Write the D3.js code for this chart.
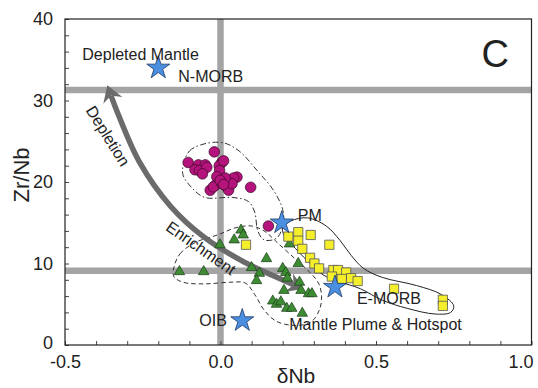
<!DOCTYPE html>
<html>
<head>
<meta charset="utf-8">
<script src="https://cdn.jsdelivr.net/npm/d3@7"></script>
<style>
  body { margin: 0; background: #fff; }
  text { font-family: Arial, "Liberation Sans", sans-serif; fill: #222; }
</style>
</head>
<body>
<div id="chart"></div>
<script>
// data: [dNb, Zr/Nb]
var purpleCircles = [
    [-0.104, 22.4], [-0.071, 22.1], [-0.049, 22.1], [-0.082, 21.5], [-0.068, 21.4],
    [-0.044, 21.8], [-0.058, 21.0], [-0.02, 23.7], [0.004, 22.4], [-0.004, 22.0],
    [0.01, 22.6], [-0.003, 21.4], [-0.012, 20.65], [-0.017, 19.6], [-0.033, 19.0],
    [-0.023, 19.4], [0.004, 19.8], [0.02, 19.4], [0.026, 19.0], [0.031, 20.2],
    [0.053, 20.6], [0.042, 20.5], [0.037, 19.8], [0.015, 20.5], [-0.001, 20.2],
    [0.01, 19.7], [0.097, 19.35], [0.154, 14.6]
];

var greenTriangles = [
    [0.066, 14.1], [0.073, 13.5], [0.044, 12.9], [-0.002, 12.3], [-0.132, 9.0],
    [-0.054, 9.0], [0.148, 10.6], [0.1, 9.5], [0.125, 8.8], [0.116, 7.9],
    [0.2, 9.4], [0.21, 8.9], [0.215, 8.2], [0.222, 12.4], [0.25, 10.0],
    [0.254, 7.7], [0.259, 6.7], [0.283, 6.3], [0.294, 6.3], [0.204, 6.7],
    [0.168, 5.4], [0.18, 5.0], [0.194, 5.3], [0.213, 4.5], [0.229, 4.5],
    [0.263, 3.9]
];

var yellowSquares = [
    [0.082, 12.3], [0.218, 13.3], [0.25, 13.85], [0.29, 13.5], [0.25, 12.8],
    [0.35, 12.3], [0.263, 11.8], [0.288, 10.7], [0.302, 10.0], [0.317, 9.4],
    [0.363, 9.2], [0.378, 9.2], [0.404, 8.9], [0.358, 8.4], [0.39, 8.1],
    [0.42, 8.2], [0.441, 7.85], [0.558, 6.9], [0.715, 5.55], [0.715, 4.8]
];

var stars = [
    {name: "N-MORB", x: -0.2, y: 34.0},
    {name: "PM", x: 0.197, y: 15.0},
    {name: "E-MORB", x: 0.368, y: 7.1},
    {name: "OIB", x: 0.07, y: 3.0}
];

// reference lines
var hLines = [31.3, 9.1];
var vLines = [0.0];

// field outlines
var purpleField = [
    [-0.12, 22.0], [-0.1, 23.8], [-0.05, 24.7], [0.01, 24.8], [0.06, 23.8],
    [0.12, 21.3], [0.17, 19.0], [0.2, 16.6], [0.2, 14.6], [0.18, 13.1],
    [0.14, 12.9], [0.12, 14.0], [0.11, 16.3], [0.09, 17.6], [0.04, 18.1],
    [-0.05, 18.1], [-0.09, 19.2], [-0.12, 20.8]
];
var greenField = [
    [-0.15, 9.5], [-0.13, 11.2], [-0.08, 12.6], [-0.01, 13.5], [0.05, 14.4],
    [0.1, 14.6], [0.14, 14.0], [0.19, 12.3], [0.245, 10.4], [0.285, 9.0],
    [0.315, 7.6], [0.325, 6.0], [0.318, 4.3], [0.29, 2.8], [0.24, 2.4],
    [0.18, 2.9], [0.14, 4.3], [0.11, 6.2], [0.08, 7.6], [0.03, 7.7],
    [-0.05, 7.5], [-0.12, 7.7], [-0.15, 8.4]
];
var yellowField = [
    [0.2, 14.4], [0.225, 15.2], [0.28, 15.6], [0.34, 14.6], [0.385, 12.8],
    [0.42, 11.0], [0.46, 9.4], [0.52, 8.3], [0.63, 7.3], [0.71, 6.2],
    [0.75, 4.8], [0.74, 4.0], [0.69, 3.8], [0.6, 4.5], [0.52, 5.5],
    [0.45, 6.9], [0.38, 7.8], [0.33, 8.6], [0.28, 10.3], [0.23, 12.3],
    [0.205, 13.4]
];

// curved double arrow (shaft)
var arrowPts = [
    [-0.352, 30.6], [-0.33, 28.4], [-0.26, 22.4], [-0.16, 17.0],
    [-0.055, 13.3], [0.075, 10.2], [0.17, 8.5], [0.235, 7.4]
];

var xTicks = d3.range(-5, 11).map(d => d / 10);
var xLabels = [-0.5, 0.0, 0.5, 1.0];
var yTicks = d3.range(0, 41, 2);
var yLabels = [0, 10, 20, 30, 40];

var svgWidth = 538;
var svgHeight = 388;
var margin = {top: 19, right: 6.5, bottom: 43, left: 65};
var width = svgWidth - margin.left - margin.right;
var height = svgHeight - margin.top - margin.bottom;

var svg = d3.select("#chart")
    .append("svg")
    .attr("width", svgWidth)
    .attr("height", svgHeight);

var defs = svg.append("defs");
defs.append("marker")
    .attr("id", "headEnd")
    .attr("viewBox", "0 0 16 20")
    .attr("refX", 5).attr("refY", 10)
    .attr("markerWidth", 16).attr("markerHeight", 20)
    .attr("markerUnits", "userSpaceOnUse")
    .attr("orient", "auto")
    .append("path")
    .attr("d", "M0,0 L16,10 L0,20 L5,10 Z")
    .attr("fill", "#6b6b6b");
defs.append("marker")
    .attr("id", "headStart")
    .attr("viewBox", "0 0 16 20")
    .attr("refX", 11).attr("refY", 10)
    .attr("markerWidth", 16).attr("markerHeight", 20)
    .attr("markerUnits", "userSpaceOnUse")
    .attr("orient", "auto")
    .append("path")
    .attr("d", "M16,0 L0,10 L16,20 L11,10 Z")
    .attr("fill", "#6b6b6b");

defs.append("clipPath").attr("id", "plotClip")
    .append("rect").attr("width", width).attr("height", height);

var g = svg.append("g")
    .attr("transform", `translate(${margin.left}, ${margin.top})`);

var x = d3.scaleLinear().domain([-0.5, 1.0]).range([0, width]);
var y = d3.scaleLinear().domain([0, 40]).range([height, 0]);

var plot = g.append("g").attr("clip-path", "url(#plotClip)");

// grey reference lines
plot.selectAll(".hline")
    .data(hLines)
    .enter()
    .append("line")
    .attr("x1", 0).attr("x2", width)
    .attr("y1", d => y(d)).attr("y2", d => y(d))
    .attr("stroke", "#a4a4a4")
    .attr("stroke-width", 6.5);

plot.selectAll(".vline")
    .data(vLines)
    .enter()
    .append("line")
    .attr("y1", 0).attr("y2", height)
    .attr("x1", d => x(d)).attr("x2", d => x(d))
    .attr("stroke", "#a4a4a4")
    .attr("stroke-width", 6.5);

// field outlines
var outline = d3.line()
    .x(d => x(d[0]))
    .y(d => y(d[1]))
    .curve(d3.curveCatmullRomClosed.alpha(0.5));

plot.append("path")
    .attr("d", outline(purpleField))
    .attr("fill", "none")
    .attr("stroke", "#333")
    .attr("stroke-width", 1)
    .attr("stroke-dasharray", "6,2.5,1.5,2.5");

plot.append("path")
    .attr("d", outline(greenField))
    .attr("fill", "none")
    .attr("stroke", "#333")
    .attr("stroke-width", 1)
    .attr("stroke-dasharray", "4.5,3");

plot.append("path")
    .attr("d", outline(yellowField))
    .attr("fill", "none")
    .attr("stroke", "#222")
    .attr("stroke-width", 1);

// arrow
var arrowLine = d3.line()
    .x(d => x(d[0]))
    .y(d => y(d[1]))
    .curve(d3.curveCatmullRom.alpha(0.5));

plot.append("path")
    .attr("d", arrowLine(arrowPts))
    .attr("fill", "none")
    .attr("stroke", "#6b6b6b")
    .attr("stroke-width", 5.5)
    .attr("marker-start", "url(#headStart)")
    .attr("marker-end", "url(#headEnd)");

// triangles
plot.selectAll(".tri")
    .data(greenTriangles)
    .enter()
    .append("path")
    .attr("d", d3.symbol(d3.symbolTriangle).size(48))
    .attr("transform", d => `translate(${x(d[0])}, ${y(d[1])})`)
    .attr("fill", "#3d8b33")
    .attr("stroke", "#1d3d1a")
    .attr("stroke-width", 0.7);

// circles
plot.selectAll(".dot")
    .data(purpleCircles)
    .enter()
    .append("circle")
    .attr("cx", d => x(d[0]))
    .attr("cy", d => y(d[1]))
    .attr("r", 5.3)
    .attr("fill", "#b3137b")
    .attr("stroke", "#3a0a28")
    .attr("stroke-width", 0.7);

// squares
plot.selectAll(".sq")
    .data(yellowSquares)
    .enter()
    .append("path")
    .attr("d", d3.symbol(d3.symbolSquare).size(85))
    .attr("transform", d => `translate(${x(d[0])}, ${y(d[1])})`)
    .attr("fill", "#f4ef2a")
    .attr("stroke", "#555")
    .attr("stroke-width", 0.8);

// text labels
var labels = g.append("g").style("font-size", "16px");
labels.append("text").attr("x", x(-0.2) - 76).attr("y", y(34) - 8).text("Depleted Mantle");
labels.append("text").attr("x", x(-0.2) + 20).attr("y", y(34) + 14.5).text("N-MORB");
labels.append("text").attr("x", x(0.197) + 16).attr("y", y(15.0) - 2).text("PM");
labels.append("text").attr("x", x(0.368) + 22).attr("y", y(7.1) + 17).text("E-MORB");
labels.append("text").attr("x", x(0.07) - 43).attr("y", y(3.0) + 5.5).text("OIB");
labels.append("text").attr("x", x(0.07) + 47).attr("y", y(3.0) + 9).text("Mantle Plume & Hotspot");

labels.append("text")
    .attr("transform", `translate(${108 - margin.left}, ${136 - margin.top}) rotate(58)`)
    .attr("text-anchor", "middle")
    .attr("dy", "0.35em")
    .text("Depletion");
labels.append("text")
    .attr("transform", `translate(${201 - margin.left}, ${248 - margin.top}) rotate(35)`)
    .attr("text-anchor", "middle")
    .attr("dy", "0.35em")
    .text("Enrichment");

// stars
plot.selectAll(".star")
    .data(stars)
    .enter()
    .append("path")
    .attr("d", d3.symbol(d3.symbolStar).size(165))
    .attr("transform", d => `translate(${x(d.x)}, ${y(d.y)})`)
    .attr("fill", "#4b8fe0")
    .attr("stroke", "#1e3a66")
    .attr("stroke-width", 0.8);

g.append("text")
    .attr("x", width - 50)
    .attr("y", 66.5 - margin.top)
    .style("font-size", "38px")
    .text("C");

// axes
var xAxis = d3.axisBottom(x)
    .tickValues(xTicks)
    .tickSizeInner(-4)
    .tickSizeOuter(0)
    .tickPadding(10)
    .tickFormat(d => xLabels.some(v => Math.abs(v - d) < 1e-9) ? d.toFixed(1) : "");

var xg = g.append("g")
    .attr("transform", `translate(0, ${height})`)
    .call(xAxis);
xg.select(".domain").remove();
xg.selectAll("line").attr("stroke", "#444");
xg.selectAll("text").style("font-size", "18px").style("font-family", "Arial, 'Liberation Sans', sans-serif").attr("fill", "#222");
xg.selectAll("text").filter(d => Math.abs(d - 1.0) < 1e-9).attr("dx", -11);

var yAxis = d3.axisLeft(y)
    .tickValues(yTicks)
    .tickSizeInner(-4)
    .tickSizeOuter(0)
    .tickPadding(12)
    .tickFormat(d => yLabels.indexOf(d) >= 0 ? d : "");

var yg = g.append("g").call(yAxis);
yg.select(".domain").remove();
yg.selectAll("line").attr("stroke", "#444");
yg.selectAll("text").style("font-size", "18px").style("font-family", "Arial, 'Liberation Sans', sans-serif").attr("fill", "#222");
yg.selectAll("text").filter(d => d === 0).attr("dy", "0.2em");

// frame
g.append("rect")
    .attr("width", width)
    .attr("height", height)
    .attr("fill", "none")
    .attr("stroke", "#222")
    .attr("stroke-width", 1.2);

// axis titles
svg.append("text")
    .attr("x", 296)
    .attr("y", 383)
    .attr("text-anchor", "middle")
    .style("font-size", "21px")
    .text("δNb");

svg.append("text")
    .attr("transform", "translate(29, 175) rotate(-90)")
    .attr("text-anchor", "middle")
    .style("font-size", "22px")
    .text("Zr/Nb");
</script>
</body>
</html>
